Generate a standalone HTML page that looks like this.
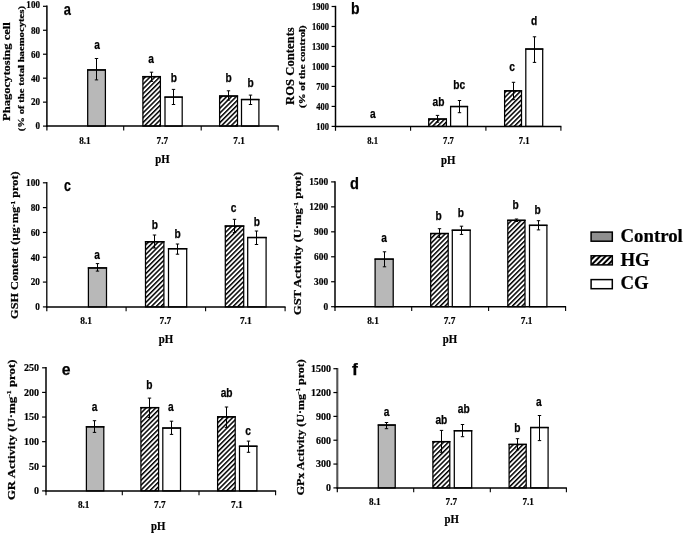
<!DOCTYPE html>
<html><head><meta charset="utf-8"><title>Figure</title>
<style>html,body{margin:0;padding:0;background:#fff}svg{display:block}text{fill:#000;stroke:#000;stroke-width:.22px;font-weight:bold;text-anchor:middle}text.s{font-family:'Liberation Serif', serif}text.n{font-family:'Liberation Sans', sans-serif;stroke-width:.25px}text.st{text-anchor:start}text.en{text-anchor:end}</style></head>
<body>
<svg width="685" height="534" viewBox="0 0 685 534">
<defs><filter id="soft" x="0" y="0" width="685" height="534" filterUnits="userSpaceOnUse"><feGaussianBlur stdDeviation="0.38"/></filter><pattern id="hatch" patternUnits="userSpaceOnUse" width="3.4" height="8" patternTransform="rotate(45)"><rect width="3.4" height="8" fill="#fff"/><rect width="1.5" height="8" fill="#000"/></pattern><pattern id="hatch2" patternUnits="userSpaceOnUse" width="3.9" height="8" patternTransform="rotate(45)"><rect width="3.9" height="8" fill="#fff"/><rect width="2" height="8" fill="#000"/></pattern></defs>
<rect width="685" height="534" fill="#fff"/>
<g stroke="#000" filter="url(#soft)">
<g>
<rect x="87.7" y="69.9" width="17.7" height="56.2" fill="#b8b8b8" stroke-width="1.25"/>
<line x1="87.08" y1="69.95" x2="106.03" y2="69.95" stroke-width="1.4"/>
<rect x="142.9" y="76.6" width="17.5" height="49.5" fill="url(#hatch)" stroke-width="1.25"/>
<line x1="142.28" y1="76.65" x2="161.03" y2="76.65" stroke-width="1.4"/>
<rect x="165" y="97.1" width="17.2" height="29" fill="#fff" stroke-width="1.25"/>
<line x1="164.38" y1="97.15" x2="182.82" y2="97.15" stroke-width="1.4"/>
<rect x="219.6" y="96" width="17.9" height="30.1" fill="url(#hatch)" stroke-width="1.25"/>
<line x1="218.97" y1="96.05" x2="238.12" y2="96.05" stroke-width="1.4"/>
<rect x="241.5" y="99.5" width="17.4" height="26.6" fill="#fff" stroke-width="1.25"/>
<line x1="240.88" y1="99.55" x2="259.52" y2="99.55" stroke-width="1.4"/>
<line x1="96.5" y1="58.5" x2="96.5" y2="79.9" stroke-width="1"/>
<line x1="94.8" y1="58.5" x2="98.2" y2="58.5" stroke-width="1"/>
<line x1="94.8" y1="79.9" x2="98.2" y2="79.9" stroke-width="1"/>
<line x1="151.5" y1="72.2" x2="151.5" y2="81.4" stroke-width="1"/>
<line x1="149.8" y1="72.2" x2="153.2" y2="72.2" stroke-width="1"/>
<line x1="149.8" y1="81.4" x2="153.2" y2="81.4" stroke-width="1"/>
<line x1="173.5" y1="89.4" x2="173.5" y2="104.5" stroke-width="1"/>
<line x1="171.8" y1="89.4" x2="175.2" y2="89.4" stroke-width="1"/>
<line x1="171.8" y1="104.5" x2="175.2" y2="104.5" stroke-width="1"/>
<line x1="228.5" y1="90.8" x2="228.5" y2="100.1" stroke-width="1"/>
<line x1="226.8" y1="90.8" x2="230.2" y2="90.8" stroke-width="1"/>
<line x1="226.8" y1="100.1" x2="230.2" y2="100.1" stroke-width="1"/>
<line x1="250.5" y1="95.1" x2="250.5" y2="104.5" stroke-width="1"/>
<line x1="248.8" y1="95.1" x2="252.2" y2="95.1" stroke-width="1"/>
<line x1="248.8" y1="104.5" x2="252.2" y2="104.5" stroke-width="1"/>
<line x1="46.9" y1="5.6" x2="46.9" y2="126.8" stroke-width="1.5"/>
<line x1="46.2" y1="126.1" x2="278.7" y2="126.1" stroke-width="1.5"/>
<line x1="43" y1="6.3" x2="46.9" y2="6.3" stroke-width="1.2"/>
<text class="s en" x="40" y="8.45" font-size="10.9" textLength="13.65" lengthAdjust="spacingAndGlyphs">100</text>
<line x1="43" y1="30.26" x2="46.9" y2="30.26" stroke-width="1.2"/>
<text class="s en" x="40" y="33.61" font-size="10.9" textLength="9.1" lengthAdjust="spacingAndGlyphs">80</text>
<line x1="43" y1="54.22" x2="46.9" y2="54.22" stroke-width="1.2"/>
<text class="s en" x="40" y="57.57" font-size="10.9" textLength="9.1" lengthAdjust="spacingAndGlyphs">60</text>
<line x1="43" y1="78.18" x2="46.9" y2="78.18" stroke-width="1.2"/>
<text class="s en" x="40" y="81.53" font-size="10.9" textLength="9.1" lengthAdjust="spacingAndGlyphs">40</text>
<line x1="43" y1="102.14" x2="46.9" y2="102.14" stroke-width="1.2"/>
<text class="s en" x="40" y="105.49" font-size="10.9" textLength="9.1" lengthAdjust="spacingAndGlyphs">20</text>
<line x1="43" y1="126.1" x2="46.9" y2="126.1" stroke-width="1.2"/>
<text class="s en" x="40" y="129.45" font-size="10.9" textLength="4.55" lengthAdjust="spacingAndGlyphs">0</text>
<line x1="123.7" y1="126.1" x2="123.7" y2="130.5" stroke-width="1.1"/>
<line x1="201.2" y1="126.1" x2="201.2" y2="130.5" stroke-width="1.1"/>
<line x1="278.2" y1="126.1" x2="278.2" y2="130.5" stroke-width="1.1"/>
<line x1="46.9" y1="126.1" x2="46.9" y2="130.5" stroke-width="1.2"/>
<text class="s" x="84.9" y="143.6" font-size="10.9" textLength="11.5" lengthAdjust="spacingAndGlyphs">8.1</text>
<text class="s" x="162.3" y="143.6" font-size="10.9" textLength="11.5" lengthAdjust="spacingAndGlyphs">7.7</text>
<text class="s" x="239.1" y="143.6" font-size="10.9" textLength="11.5" lengthAdjust="spacingAndGlyphs">7.1</text>
<text class="s" x="162.5" y="163.4" font-size="12.4" textLength="14.4" lengthAdjust="spacingAndGlyphs">pH</text>
<text class="n" x="97" y="48.6" font-size="12" textLength="5.67" lengthAdjust="spacingAndGlyphs">a</text>
<text class="n" x="151.1" y="62.8" font-size="12" textLength="5.67" lengthAdjust="spacingAndGlyphs">a</text>
<text class="n" x="173.8" y="82.2" font-size="12" textLength="6.23" lengthAdjust="spacingAndGlyphs">b</text>
<text class="n" x="228.5" y="81.7" font-size="12" textLength="6.23" lengthAdjust="spacingAndGlyphs">b</text>
<text class="n" x="250.7" y="87.2" font-size="12" textLength="6.23" lengthAdjust="spacingAndGlyphs">b</text>
<text class="n st" x="63.8" y="15.3" font-size="16.3" textLength="7.16" lengthAdjust="spacingAndGlyphs">a</text>
<text class="s st" x="9.5" y="121" font-size="10.8" textLength="98.8" lengthAdjust="spacingAndGlyphs" transform="rotate(-90 9.5 121)">Phagocytosing cell</text>
<text class="s st" x="24.2" y="131.2" font-size="8.7" textLength="125.3" lengthAdjust="spacingAndGlyphs" transform="rotate(-90 24.2 131.2)">(% of the total haemocytes)</text>
</g>
<g>
<rect x="428.7" y="119" width="17.7" height="7.4" fill="url(#hatch)" stroke-width="1.25"/>
<line x1="428.07" y1="119.05" x2="447.02" y2="119.05" stroke-width="1.4"/>
<rect x="450.6" y="106.5" width="16.9" height="19.9" fill="#fff" stroke-width="1.25"/>
<line x1="449.98" y1="106.55" x2="468.12" y2="106.55" stroke-width="1.4"/>
<rect x="504.6" y="90.8" width="16.9" height="35.6" fill="url(#hatch)" stroke-width="1.25"/>
<line x1="503.98" y1="90.85" x2="522.12" y2="90.85" stroke-width="1.4"/>
<rect x="525.8" y="49" width="16.9" height="77.4" fill="#fff" stroke-width="1.25"/>
<line x1="525.17" y1="49.05" x2="543.33" y2="49.05" stroke-width="1.4"/>
<line x1="437.5" y1="115.4" x2="437.5" y2="122.2" stroke-width="1"/>
<line x1="435.8" y1="115.4" x2="439.2" y2="115.4" stroke-width="1"/>
<line x1="435.8" y1="122.2" x2="439.2" y2="122.2" stroke-width="1"/>
<line x1="459.5" y1="100.5" x2="459.5" y2="112.7" stroke-width="1"/>
<line x1="457.8" y1="100.5" x2="461.2" y2="100.5" stroke-width="1"/>
<line x1="457.8" y1="112.7" x2="461.2" y2="112.7" stroke-width="1"/>
<line x1="513.5" y1="82.3" x2="513.5" y2="99.7" stroke-width="1"/>
<line x1="511.8" y1="82.3" x2="515.2" y2="82.3" stroke-width="1"/>
<line x1="511.8" y1="99.7" x2="515.2" y2="99.7" stroke-width="1"/>
<line x1="534.5" y1="36.8" x2="534.5" y2="62.4" stroke-width="1"/>
<line x1="532.8" y1="36.8" x2="536.2" y2="36.8" stroke-width="1"/>
<line x1="532.8" y1="62.4" x2="536.2" y2="62.4" stroke-width="1"/>
<line x1="335.5" y1="5.8" x2="335.5" y2="127.1" stroke-width="1.5"/>
<line x1="334.8" y1="126.4" x2="561.4" y2="126.4" stroke-width="1.5"/>
<line x1="331.6" y1="6.5" x2="335.5" y2="6.5" stroke-width="1.2"/>
<text class="s en" x="329.1" y="9.85" font-size="10.9" textLength="17" lengthAdjust="spacingAndGlyphs">1900</text>
<line x1="331.6" y1="26.48" x2="335.5" y2="26.48" stroke-width="1.2"/>
<text class="s en" x="329.1" y="29.83" font-size="10.9" textLength="17" lengthAdjust="spacingAndGlyphs">1600</text>
<line x1="331.6" y1="46.47" x2="335.5" y2="46.47" stroke-width="1.2"/>
<text class="s en" x="329.1" y="49.82" font-size="10.9" textLength="17" lengthAdjust="spacingAndGlyphs">1300</text>
<line x1="331.6" y1="66.45" x2="335.5" y2="66.45" stroke-width="1.2"/>
<text class="s en" x="329.1" y="69.8" font-size="10.9" textLength="17" lengthAdjust="spacingAndGlyphs">1000</text>
<line x1="331.6" y1="86.43" x2="335.5" y2="86.43" stroke-width="1.2"/>
<text class="s en" x="329.1" y="89.78" font-size="10.9" textLength="12.75" lengthAdjust="spacingAndGlyphs">700</text>
<line x1="331.6" y1="106.42" x2="335.5" y2="106.42" stroke-width="1.2"/>
<text class="s en" x="329.1" y="109.77" font-size="10.9" textLength="12.75" lengthAdjust="spacingAndGlyphs">400</text>
<line x1="331.6" y1="126.4" x2="335.5" y2="126.4" stroke-width="1.2"/>
<text class="s en" x="329.1" y="129.75" font-size="10.9" textLength="12.75" lengthAdjust="spacingAndGlyphs">100</text>
<line x1="410.6" y1="126.4" x2="410.6" y2="130.8" stroke-width="1.1"/>
<line x1="485.9" y1="126.4" x2="485.9" y2="130.8" stroke-width="1.1"/>
<line x1="560.9" y1="126.4" x2="560.9" y2="130.8" stroke-width="1.1"/>
<line x1="335.5" y1="126.4" x2="335.5" y2="130.8" stroke-width="1.2"/>
<text class="s" x="372.7" y="144.1" font-size="10.9" textLength="10.8" lengthAdjust="spacingAndGlyphs">8.1</text>
<text class="s" x="448.5" y="144.1" font-size="10.9" textLength="10.8" lengthAdjust="spacingAndGlyphs">7.7</text>
<text class="s" x="524.2" y="144.1" font-size="10.9" textLength="10.8" lengthAdjust="spacingAndGlyphs">7.1</text>
<text class="s" x="448.2" y="164.3" font-size="12.4" textLength="14.4" lengthAdjust="spacingAndGlyphs">pH</text>
<text class="n" x="372.8" y="118.1" font-size="12" textLength="5.67" lengthAdjust="spacingAndGlyphs">a</text>
<text class="n" x="438.5" y="105.9" font-size="12" textLength="11.9" lengthAdjust="spacingAndGlyphs">ab</text>
<text class="n" x="459.2" y="88.7" font-size="12" textLength="11.9" lengthAdjust="spacingAndGlyphs">bc</text>
<text class="n" x="512" y="70.5" font-size="12" textLength="5.67" lengthAdjust="spacingAndGlyphs">c</text>
<text class="n" x="534" y="25" font-size="12" textLength="6.23" lengthAdjust="spacingAndGlyphs">d</text>
<text class="n st" x="350.9" y="13.9" font-size="16.3" textLength="8.56" lengthAdjust="spacingAndGlyphs">b</text>
<text class="s st" x="294" y="104.9" font-size="11.9" textLength="77.7" lengthAdjust="spacingAndGlyphs" transform="rotate(-90 294 104.9)">ROS Contents</text>
<text class="s st" x="305.5" y="107.9" font-size="7.9" textLength="82.6" lengthAdjust="spacingAndGlyphs" transform="rotate(-90 305.5 107.9)">(% of the control)</text>
</g>
<g>
<rect x="88.4" y="267.9" width="18.1" height="39" fill="#b8b8b8" stroke-width="1.25"/>
<line x1="87.78" y1="267.95" x2="107.12" y2="267.95" stroke-width="1.4"/>
<rect x="145.5" y="241.7" width="18.4" height="65.2" fill="url(#hatch)" stroke-width="1.25"/>
<line x1="144.88" y1="241.75" x2="164.53" y2="241.75" stroke-width="1.4"/>
<rect x="168.5" y="248.7" width="18.2" height="58.2" fill="#fff" stroke-width="1.25"/>
<line x1="167.88" y1="248.75" x2="187.32" y2="248.75" stroke-width="1.4"/>
<rect x="225.3" y="226" width="18.4" height="80.9" fill="url(#hatch)" stroke-width="1.25"/>
<line x1="224.68" y1="226.05" x2="244.32" y2="226.05" stroke-width="1.4"/>
<rect x="247.7" y="237.5" width="18.4" height="69.4" fill="#fff" stroke-width="1.25"/>
<line x1="247.07" y1="237.55" x2="266.73" y2="237.55" stroke-width="1.4"/>
<line x1="97.5" y1="263.6" x2="97.5" y2="271.1" stroke-width="1"/>
<line x1="95.8" y1="263.6" x2="99.2" y2="263.6" stroke-width="1"/>
<line x1="95.8" y1="271.1" x2="99.2" y2="271.1" stroke-width="1"/>
<line x1="154.5" y1="235" x2="154.5" y2="248" stroke-width="1"/>
<line x1="152.8" y1="235" x2="156.2" y2="235" stroke-width="1"/>
<line x1="152.8" y1="248" x2="156.2" y2="248" stroke-width="1"/>
<line x1="177.5" y1="244" x2="177.5" y2="254.2" stroke-width="1"/>
<line x1="175.8" y1="244" x2="179.2" y2="244" stroke-width="1"/>
<line x1="175.8" y1="254.2" x2="179.2" y2="254.2" stroke-width="1"/>
<line x1="234.5" y1="219.3" x2="234.5" y2="232.5" stroke-width="1"/>
<line x1="232.8" y1="219.3" x2="236.2" y2="219.3" stroke-width="1"/>
<line x1="232.8" y1="232.5" x2="236.2" y2="232.5" stroke-width="1"/>
<line x1="256.5" y1="231" x2="256.5" y2="244.5" stroke-width="1"/>
<line x1="254.8" y1="231" x2="258.2" y2="231" stroke-width="1"/>
<line x1="254.8" y1="244.5" x2="258.2" y2="244.5" stroke-width="1"/>
<line x1="46.8" y1="182.1" x2="46.8" y2="307.6" stroke-width="1.3"/>
<line x1="46.1" y1="306.9" x2="285.6" y2="306.9" stroke-width="1.5"/>
<line x1="42.9" y1="182.8" x2="46.8" y2="182.8" stroke-width="1.2"/>
<text class="s en" x="39.9" y="186.15" font-size="10.9" textLength="13.8" lengthAdjust="spacingAndGlyphs">100</text>
<line x1="42.9" y1="207.62" x2="46.8" y2="207.62" stroke-width="1.2"/>
<text class="s en" x="39.9" y="210.97" font-size="10.9" textLength="9.2" lengthAdjust="spacingAndGlyphs">80</text>
<line x1="42.9" y1="232.44" x2="46.8" y2="232.44" stroke-width="1.2"/>
<text class="s en" x="39.9" y="235.79" font-size="10.9" textLength="9.2" lengthAdjust="spacingAndGlyphs">60</text>
<line x1="42.9" y1="257.26" x2="46.8" y2="257.26" stroke-width="1.2"/>
<text class="s en" x="39.9" y="260.61" font-size="10.9" textLength="9.2" lengthAdjust="spacingAndGlyphs">40</text>
<line x1="42.9" y1="282.08" x2="46.8" y2="282.08" stroke-width="1.2"/>
<text class="s en" x="39.9" y="285.43" font-size="10.9" textLength="9.2" lengthAdjust="spacingAndGlyphs">20</text>
<line x1="42.9" y1="306.9" x2="46.8" y2="306.9" stroke-width="1.2"/>
<text class="s en" x="39.9" y="310.25" font-size="10.9" textLength="4.6" lengthAdjust="spacingAndGlyphs">0</text>
<line x1="126.1" y1="306.9" x2="126.1" y2="311.3" stroke-width="1.1"/>
<line x1="205.6" y1="306.9" x2="205.6" y2="311.3" stroke-width="1.1"/>
<line x1="285.1" y1="306.9" x2="285.1" y2="311.3" stroke-width="1.1"/>
<line x1="46.8" y1="306.9" x2="46.8" y2="311.3" stroke-width="1.2"/>
<text class="s" x="86.1" y="324.2" font-size="10.9" textLength="11.8" lengthAdjust="spacingAndGlyphs">8.1</text>
<text class="s" x="165.4" y="324.2" font-size="10.9" textLength="11.8" lengthAdjust="spacingAndGlyphs">7.7</text>
<text class="s" x="245.8" y="324.2" font-size="10.9" textLength="11.8" lengthAdjust="spacingAndGlyphs">7.1</text>
<text class="s" x="166" y="343.3" font-size="12.4" textLength="14.4" lengthAdjust="spacingAndGlyphs">pH</text>
<text class="n" x="97" y="259" font-size="12" textLength="5.67" lengthAdjust="spacingAndGlyphs">a</text>
<text class="n" x="154.8" y="228.6" font-size="12" textLength="6.23" lengthAdjust="spacingAndGlyphs">b</text>
<text class="n" x="177.5" y="237.8" font-size="12" textLength="6.23" lengthAdjust="spacingAndGlyphs">b</text>
<text class="n" x="233.5" y="211.9" font-size="12" textLength="5.67" lengthAdjust="spacingAndGlyphs">c</text>
<text class="n" x="256.9" y="226.1" font-size="12" textLength="6.23" lengthAdjust="spacingAndGlyphs">b</text>
<text class="n st" x="63.9" y="191" font-size="16.3" textLength="6.89" lengthAdjust="spacingAndGlyphs">c</text>
<text class="s st" x="18.5" y="318.9" font-size="10.9" textLength="147.5" lengthAdjust="spacingAndGlyphs" transform="rotate(-90 18.5 318.9)">GSH Content (µg·mg<tspan font-size="6.54" dy="-3.6">-1</tspan><tspan dy="3.6"> prot)</tspan></text>
</g>
<g>
<rect x="375.1" y="259.1" width="18.1" height="47.6" fill="#b8b8b8" stroke-width="1.25"/>
<line x1="374.48" y1="259.15" x2="393.82" y2="259.15" stroke-width="1.4"/>
<rect x="430.7" y="233.5" width="17.5" height="73.2" fill="url(#hatch)" stroke-width="1.25"/>
<line x1="430.07" y1="233.55" x2="448.82" y2="233.55" stroke-width="1.4"/>
<rect x="452.3" y="230.2" width="17.9" height="76.5" fill="#fff" stroke-width="1.25"/>
<line x1="451.68" y1="230.25" x2="470.82" y2="230.25" stroke-width="1.4"/>
<rect x="507.8" y="220.3" width="17.2" height="86.4" fill="url(#hatch)" stroke-width="1.25"/>
<line x1="507.18" y1="220.35" x2="525.62" y2="220.35" stroke-width="1.4"/>
<rect x="529.5" y="225.3" width="17.4" height="81.4" fill="#fff" stroke-width="1.25"/>
<line x1="528.88" y1="225.35" x2="547.52" y2="225.35" stroke-width="1.4"/>
<line x1="384.5" y1="251.8" x2="384.5" y2="266.8" stroke-width="1"/>
<line x1="382.8" y1="251.8" x2="386.2" y2="251.8" stroke-width="1"/>
<line x1="382.8" y1="266.8" x2="386.2" y2="266.8" stroke-width="1"/>
<line x1="439.5" y1="228.7" x2="439.5" y2="237.4" stroke-width="1"/>
<line x1="437.8" y1="228.7" x2="441.2" y2="228.7" stroke-width="1"/>
<line x1="437.8" y1="237.4" x2="441.2" y2="237.4" stroke-width="1"/>
<line x1="461.5" y1="226.2" x2="461.5" y2="234.4" stroke-width="1"/>
<line x1="459.8" y1="226.2" x2="463.2" y2="226.2" stroke-width="1"/>
<line x1="459.8" y1="234.4" x2="463.2" y2="234.4" stroke-width="1"/>
<line x1="516.5" y1="219" x2="516.5" y2="221.5" stroke-width="1"/>
<line x1="514.8" y1="219" x2="518.2" y2="219" stroke-width="1"/>
<line x1="514.8" y1="221.5" x2="518.2" y2="221.5" stroke-width="1"/>
<line x1="538.5" y1="220.7" x2="538.5" y2="229.9" stroke-width="1"/>
<line x1="536.8" y1="220.7" x2="540.2" y2="220.7" stroke-width="1"/>
<line x1="536.8" y1="229.9" x2="540.2" y2="229.9" stroke-width="1"/>
<line x1="335" y1="181.2" x2="335" y2="307.4" stroke-width="1.5"/>
<line x1="334.3" y1="306.7" x2="566.1" y2="306.7" stroke-width="1.5"/>
<line x1="331.1" y1="181.9" x2="335" y2="181.9" stroke-width="1.2"/>
<text class="s en" x="328.1" y="185.25" font-size="10.9" textLength="18.8" lengthAdjust="spacingAndGlyphs">1500</text>
<line x1="331.1" y1="206.86" x2="335" y2="206.86" stroke-width="1.2"/>
<text class="s en" x="328.1" y="210.21" font-size="10.9" textLength="18.8" lengthAdjust="spacingAndGlyphs">1200</text>
<line x1="331.1" y1="231.82" x2="335" y2="231.82" stroke-width="1.2"/>
<text class="s en" x="328.1" y="235.17" font-size="10.9" textLength="14.1" lengthAdjust="spacingAndGlyphs">900</text>
<line x1="331.1" y1="256.78" x2="335" y2="256.78" stroke-width="1.2"/>
<text class="s en" x="328.1" y="260.13" font-size="10.9" textLength="14.1" lengthAdjust="spacingAndGlyphs">600</text>
<line x1="331.1" y1="281.74" x2="335" y2="281.74" stroke-width="1.2"/>
<text class="s en" x="328.1" y="285.09" font-size="10.9" textLength="14.1" lengthAdjust="spacingAndGlyphs">300</text>
<line x1="331.1" y1="306.7" x2="335" y2="306.7" stroke-width="1.2"/>
<text class="s en" x="328.1" y="310.05" font-size="10.9" textLength="4.7" lengthAdjust="spacingAndGlyphs">0</text>
<line x1="411.7" y1="306.7" x2="411.7" y2="311.1" stroke-width="1.1"/>
<line x1="488.6" y1="306.7" x2="488.6" y2="311.1" stroke-width="1.1"/>
<line x1="565.6" y1="306.7" x2="565.6" y2="311.1" stroke-width="1.1"/>
<line x1="335" y1="306.7" x2="335" y2="311.1" stroke-width="1.2"/>
<text class="s" x="373" y="324.2" font-size="10.9" textLength="11.7" lengthAdjust="spacingAndGlyphs">8.1</text>
<text class="s" x="449.5" y="324.2" font-size="10.9" textLength="11.7" lengthAdjust="spacingAndGlyphs">7.7</text>
<text class="s" x="526.7" y="324.2" font-size="10.9" textLength="11.7" lengthAdjust="spacingAndGlyphs">7.1</text>
<text class="s" x="450" y="343.3" font-size="12.4" textLength="14.4" lengthAdjust="spacingAndGlyphs">pH</text>
<text class="n" x="384" y="242.3" font-size="12" textLength="5.67" lengthAdjust="spacingAndGlyphs">a</text>
<text class="n" x="438.7" y="219.6" font-size="12" textLength="6.23" lengthAdjust="spacingAndGlyphs">b</text>
<text class="n" x="460.8" y="217.4" font-size="12" textLength="6.23" lengthAdjust="spacingAndGlyphs">b</text>
<text class="n" x="515.5" y="208.7" font-size="12" textLength="6.23" lengthAdjust="spacingAndGlyphs">b</text>
<text class="n" x="537.7" y="214.1" font-size="12" textLength="6.23" lengthAdjust="spacingAndGlyphs">b</text>
<text class="n st" x="350" y="188.5" font-size="16.3" textLength="8.96" lengthAdjust="spacingAndGlyphs">d</text>
<text class="s st" x="301.5" y="315.1" font-size="9.9" textLength="143.2" lengthAdjust="spacingAndGlyphs" transform="rotate(-90 301.5 315.1)">GST Activity (U·mg<tspan font-size="5.94" dy="-3.27">-1</tspan><tspan dy="3.27"> prot)</tspan></text>
</g>
<g>
<rect x="86.4" y="426.8" width="17.4" height="64.1" fill="#b8b8b8" stroke-width="1.25"/>
<line x1="85.78" y1="426.85" x2="104.42" y2="426.85" stroke-width="1.4"/>
<rect x="140.9" y="407.6" width="17.7" height="83.3" fill="url(#hatch)" stroke-width="1.25"/>
<line x1="140.28" y1="407.65" x2="159.22" y2="407.65" stroke-width="1.4"/>
<rect x="162.8" y="428" width="17.7" height="62.9" fill="#fff" stroke-width="1.25"/>
<line x1="162.18" y1="428.05" x2="181.12" y2="428.05" stroke-width="1.4"/>
<rect x="217.6" y="416.8" width="17.6" height="74.1" fill="url(#hatch)" stroke-width="1.25"/>
<line x1="216.97" y1="416.85" x2="235.82" y2="416.85" stroke-width="1.4"/>
<rect x="239.5" y="446.2" width="17.4" height="44.7" fill="#fff" stroke-width="1.25"/>
<line x1="238.88" y1="446.25" x2="257.52" y2="446.25" stroke-width="1.4"/>
<line x1="94.5" y1="420.7" x2="94.5" y2="432.4" stroke-width="1"/>
<line x1="92.8" y1="420.7" x2="96.2" y2="420.7" stroke-width="1"/>
<line x1="92.8" y1="432.4" x2="96.2" y2="432.4" stroke-width="1"/>
<line x1="149.5" y1="398.1" x2="149.5" y2="417.5" stroke-width="1"/>
<line x1="147.8" y1="398.1" x2="151.2" y2="398.1" stroke-width="1"/>
<line x1="147.8" y1="417.5" x2="151.2" y2="417.5" stroke-width="1"/>
<line x1="171.5" y1="421.2" x2="171.5" y2="434.4" stroke-width="1"/>
<line x1="169.8" y1="421.2" x2="173.2" y2="421.2" stroke-width="1"/>
<line x1="169.8" y1="434.4" x2="173.2" y2="434.4" stroke-width="1"/>
<line x1="226.5" y1="407" x2="226.5" y2="427.4" stroke-width="1"/>
<line x1="224.8" y1="407" x2="228.2" y2="407" stroke-width="1"/>
<line x1="224.8" y1="427.4" x2="228.2" y2="427.4" stroke-width="1"/>
<line x1="248.5" y1="441.1" x2="248.5" y2="452.3" stroke-width="1"/>
<line x1="246.8" y1="441.1" x2="250.2" y2="441.1" stroke-width="1"/>
<line x1="246.8" y1="452.3" x2="250.2" y2="452.3" stroke-width="1"/>
<line x1="46" y1="367.1" x2="46" y2="491.6" stroke-width="1.5"/>
<line x1="45.3" y1="490.9" x2="276.1" y2="490.9" stroke-width="1.5"/>
<line x1="42.1" y1="367.8" x2="46" y2="367.8" stroke-width="1.2"/>
<text class="s en" x="39.1" y="371.15" font-size="10.9" textLength="15" lengthAdjust="spacingAndGlyphs">250</text>
<line x1="42.1" y1="392.42" x2="46" y2="392.42" stroke-width="1.2"/>
<text class="s en" x="39.1" y="395.77" font-size="10.9" textLength="15" lengthAdjust="spacingAndGlyphs">200</text>
<line x1="42.1" y1="417.04" x2="46" y2="417.04" stroke-width="1.2"/>
<text class="s en" x="39.1" y="420.39" font-size="10.9" textLength="15" lengthAdjust="spacingAndGlyphs">150</text>
<line x1="42.1" y1="441.66" x2="46" y2="441.66" stroke-width="1.2"/>
<text class="s en" x="39.1" y="445.01" font-size="10.9" textLength="15" lengthAdjust="spacingAndGlyphs">100</text>
<line x1="42.1" y1="466.28" x2="46" y2="466.28" stroke-width="1.2"/>
<text class="s en" x="39.1" y="469.63" font-size="10.9" textLength="10" lengthAdjust="spacingAndGlyphs">50</text>
<line x1="42.1" y1="490.9" x2="46" y2="490.9" stroke-width="1.2"/>
<text class="s en" x="39.1" y="494.25" font-size="10.9" textLength="5" lengthAdjust="spacingAndGlyphs">0</text>
<line x1="122.3" y1="490.9" x2="122.3" y2="495.3" stroke-width="1.1"/>
<line x1="199" y1="490.9" x2="199" y2="495.3" stroke-width="1.1"/>
<line x1="275.6" y1="490.9" x2="275.6" y2="495.3" stroke-width="1.1"/>
<line x1="46" y1="490.9" x2="46" y2="495.3" stroke-width="1.2"/>
<text class="s" x="83.7" y="508.3" font-size="10.9" textLength="11.6" lengthAdjust="spacingAndGlyphs">8.1</text>
<text class="s" x="159.8" y="508.3" font-size="10.9" textLength="11.6" lengthAdjust="spacingAndGlyphs">7.7</text>
<text class="s" x="236.8" y="508.3" font-size="10.9" textLength="11.6" lengthAdjust="spacingAndGlyphs">7.1</text>
<text class="s" x="158.1" y="530.4" font-size="12.4" textLength="14.4" lengthAdjust="spacingAndGlyphs">pH</text>
<text class="n" x="94.6" y="411.3" font-size="12" textLength="5.67" lengthAdjust="spacingAndGlyphs">a</text>
<text class="n" x="149.3" y="388.9" font-size="12" textLength="6.23" lengthAdjust="spacingAndGlyphs">b</text>
<text class="n" x="170.8" y="411.3" font-size="12" textLength="5.67" lengthAdjust="spacingAndGlyphs">a</text>
<text class="n" x="226.6" y="397.1" font-size="12" textLength="11.9" lengthAdjust="spacingAndGlyphs">ab</text>
<text class="n" x="248.2" y="435.4" font-size="12" textLength="5.67" lengthAdjust="spacingAndGlyphs">c</text>
<text class="n st" x="61.8" y="374.8" font-size="16.3" textLength="8.79" lengthAdjust="spacingAndGlyphs">e</text>
<text class="s st" x="14.9" y="500.1" font-size="10.3" textLength="140.6" lengthAdjust="spacingAndGlyphs" transform="rotate(-90 14.9 500.1)">GR Activity (U·mg<tspan font-size="6.18" dy="-3.4">-1</tspan><tspan dy="3.4"> prot)</tspan></text>
</g>
<g>
<rect x="378.3" y="425" width="16.9" height="62.9" fill="#b8b8b8" stroke-width="1.25"/>
<line x1="377.68" y1="425.05" x2="395.82" y2="425.05" stroke-width="1.4"/>
<rect x="432.9" y="441.6" width="16.9" height="46.3" fill="url(#hatch)" stroke-width="1.25"/>
<line x1="432.27" y1="441.65" x2="450.43" y2="441.65" stroke-width="1.4"/>
<rect x="454.3" y="430.7" width="17.4" height="57.2" fill="#fff" stroke-width="1.25"/>
<line x1="453.68" y1="430.75" x2="472.32" y2="430.75" stroke-width="1.4"/>
<rect x="509.1" y="444.4" width="17.1" height="43.5" fill="url(#hatch)" stroke-width="1.25"/>
<line x1="508.48" y1="444.45" x2="526.83" y2="444.45" stroke-width="1.4"/>
<rect x="530.7" y="427.5" width="17.4" height="60.4" fill="#fff" stroke-width="1.25"/>
<line x1="530.08" y1="427.55" x2="548.73" y2="427.55" stroke-width="1.4"/>
<line x1="386.5" y1="422.5" x2="386.5" y2="428.7" stroke-width="1"/>
<line x1="384.8" y1="422.5" x2="388.2" y2="422.5" stroke-width="1"/>
<line x1="384.8" y1="428.7" x2="388.2" y2="428.7" stroke-width="1"/>
<line x1="441.5" y1="430.4" x2="441.5" y2="452.3" stroke-width="1"/>
<line x1="439.8" y1="430.4" x2="443.2" y2="430.4" stroke-width="1"/>
<line x1="439.8" y1="452.3" x2="443.2" y2="452.3" stroke-width="1"/>
<line x1="462.5" y1="424.5" x2="462.5" y2="436.7" stroke-width="1"/>
<line x1="460.8" y1="424.5" x2="464.2" y2="424.5" stroke-width="1"/>
<line x1="460.8" y1="436.7" x2="464.2" y2="436.7" stroke-width="1"/>
<line x1="517.5" y1="438.7" x2="517.5" y2="449.9" stroke-width="1"/>
<line x1="515.8" y1="438.7" x2="519.2" y2="438.7" stroke-width="1"/>
<line x1="515.8" y1="449.9" x2="519.2" y2="449.9" stroke-width="1"/>
<line x1="539.5" y1="415.5" x2="539.5" y2="440.6" stroke-width="1"/>
<line x1="537.8" y1="415.5" x2="541.2" y2="415.5" stroke-width="1"/>
<line x1="537.8" y1="440.6" x2="541.2" y2="440.6" stroke-width="1"/>
<line x1="337.3" y1="368" x2="337.3" y2="488.6" stroke-width="2.1" stroke="#555"/>
<line x1="336.6" y1="487.9" x2="566.9" y2="487.9" stroke-width="1.5"/>
<line x1="333.4" y1="368.7" x2="337.3" y2="368.7" stroke-width="1.2"/>
<text class="s en" x="331.1" y="372.05" font-size="10.9" textLength="20" lengthAdjust="spacingAndGlyphs">1500</text>
<line x1="333.4" y1="392.54" x2="337.3" y2="392.54" stroke-width="1.2"/>
<text class="s en" x="331.1" y="395.89" font-size="10.9" textLength="20" lengthAdjust="spacingAndGlyphs">1200</text>
<line x1="333.4" y1="416.38" x2="337.3" y2="416.38" stroke-width="1.2"/>
<text class="s en" x="331.1" y="419.73" font-size="10.9" textLength="15" lengthAdjust="spacingAndGlyphs">900</text>
<line x1="333.4" y1="440.22" x2="337.3" y2="440.22" stroke-width="1.2"/>
<text class="s en" x="331.1" y="443.57" font-size="10.9" textLength="15" lengthAdjust="spacingAndGlyphs">600</text>
<line x1="333.4" y1="464.06" x2="337.3" y2="464.06" stroke-width="1.2"/>
<text class="s en" x="331.1" y="467.41" font-size="10.9" textLength="15" lengthAdjust="spacingAndGlyphs">300</text>
<line x1="333.4" y1="487.9" x2="337.3" y2="487.9" stroke-width="1.2"/>
<text class="s en" x="331.1" y="491.25" font-size="10.9" textLength="5" lengthAdjust="spacingAndGlyphs">0</text>
<line x1="413.7" y1="487.9" x2="413.7" y2="492.3" stroke-width="1.1"/>
<line x1="490.3" y1="487.9" x2="490.3" y2="492.3" stroke-width="1.1"/>
<line x1="566.4" y1="487.9" x2="566.4" y2="492.3" stroke-width="1.1"/>
<line x1="337.3" y1="487.9" x2="337.3" y2="492.3" stroke-width="1.2"/>
<text class="s" x="374.8" y="504.8" font-size="10.9" textLength="11.5" lengthAdjust="spacingAndGlyphs">8.1</text>
<text class="s" x="451.3" y="504.8" font-size="10.9" textLength="11.5" lengthAdjust="spacingAndGlyphs">7.7</text>
<text class="s" x="528.2" y="504.8" font-size="10.9" textLength="11.5" lengthAdjust="spacingAndGlyphs">7.1</text>
<text class="s" x="451.8" y="522.7" font-size="12.4" textLength="14.4" lengthAdjust="spacingAndGlyphs">pH</text>
<text class="n" x="386.5" y="416.1" font-size="12" textLength="5.67" lengthAdjust="spacingAndGlyphs">a</text>
<text class="n" x="441.4" y="424" font-size="12" textLength="11.9" lengthAdjust="spacingAndGlyphs">ab</text>
<text class="n" x="463.7" y="413.1" font-size="12" textLength="11.9" lengthAdjust="spacingAndGlyphs">ab</text>
<text class="n" x="517.3" y="431.7" font-size="12" textLength="6.23" lengthAdjust="spacingAndGlyphs">b</text>
<text class="n" x="538.9" y="405.6" font-size="12" textLength="5.67" lengthAdjust="spacingAndGlyphs">a</text>
<text class="n st" x="352" y="375.1" font-size="16.3" textLength="5.86" lengthAdjust="spacingAndGlyphs">f</text>
<text class="s st" x="303.8" y="495.3" font-size="10.3" textLength="136.1" lengthAdjust="spacingAndGlyphs" transform="rotate(-90 303.8 495.3)">GPx Activity (U·mg<tspan font-size="6.18" dy="-3.4">-1</tspan><tspan dy="3.4"> prot)</tspan></text>
</g>
<rect x="591.1" y="232.1" width="21.2" height="9.1" fill="#8f8f8f" stroke-width="1.5"/>
<text class="s st" x="620.5" y="242.1" font-size="18.8">Control</text>
<rect x="591.1" y="255.8" width="21.2" height="9.1" fill="url(#hatch2)" stroke-width="1.5"/>
<text class="s st" x="620.5" y="265.9" font-size="18.8">HG</text>
<rect x="591.1" y="279.6" width="21.2" height="9.1" fill="#fff" stroke-width="1.5"/>
<text class="s st" x="620.5" y="288.7" font-size="18.8">CG</text>
</g>
</svg>
</body></html>
